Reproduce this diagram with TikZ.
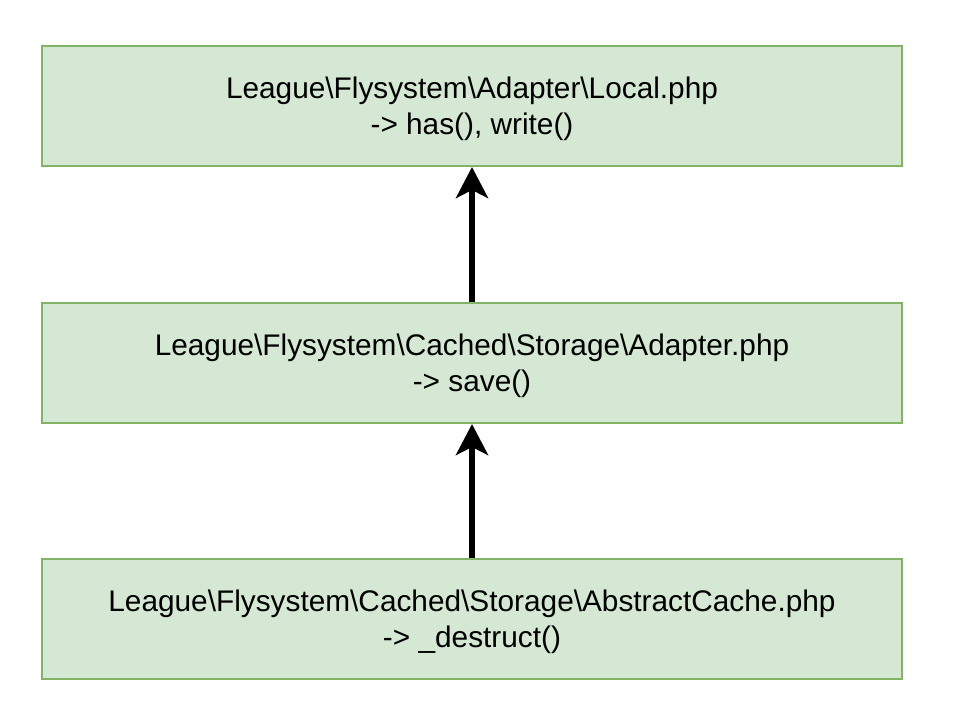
\documentclass[tikz,border=0pt]{standalone}
\usepackage{fontspec}
\setmainfont{Liberation Sans}
\usetikzlibrary{arrows.meta,positioning}
\definecolor{boxfill}{HTML}{D5E8D4}
\definecolor{boxline}{HTML}{82B366}
\tikzset{
  phpbox/.style={draw=boxline, fill=boxfill, line width=2pt, minimum width=860pt, minimum height=120pt, align=center, inner sep=0pt, text depth=0pt, font=\fontsize{29.8pt}{36pt}\selectfont},
  callarrow/.style={line width=6pt, -{Stealth[length=31pt, width=32pt, inset=8pt]}}
}
\begin{document}
\begin{tikzpicture}[x=1pt,y=1pt]
  \useasboundingbox (0,0) rectangle (954,-704);
  \node [phpbox] (local) at (472,-106) {League\textbackslash Flysystem\textbackslash Adapter\textbackslash Local.php\\-> has(), write()};
  \node [phpbox, below=135pt of local] (adapter) {League\textbackslash Flysystem\textbackslash Cached\textbackslash Storage\textbackslash Adapter.php\\-> save()};
  \node [phpbox, below=134pt of adapter] (cache) {League\textbackslash Flysystem\textbackslash Cached\textbackslash Storage\textbackslash AbstractCache.php\\-> \_destruct()};
  \draw [callarrow] (adapter) -- (local);
  \draw [callarrow] (cache) -- (adapter);
\end{tikzpicture}
\end{document}
